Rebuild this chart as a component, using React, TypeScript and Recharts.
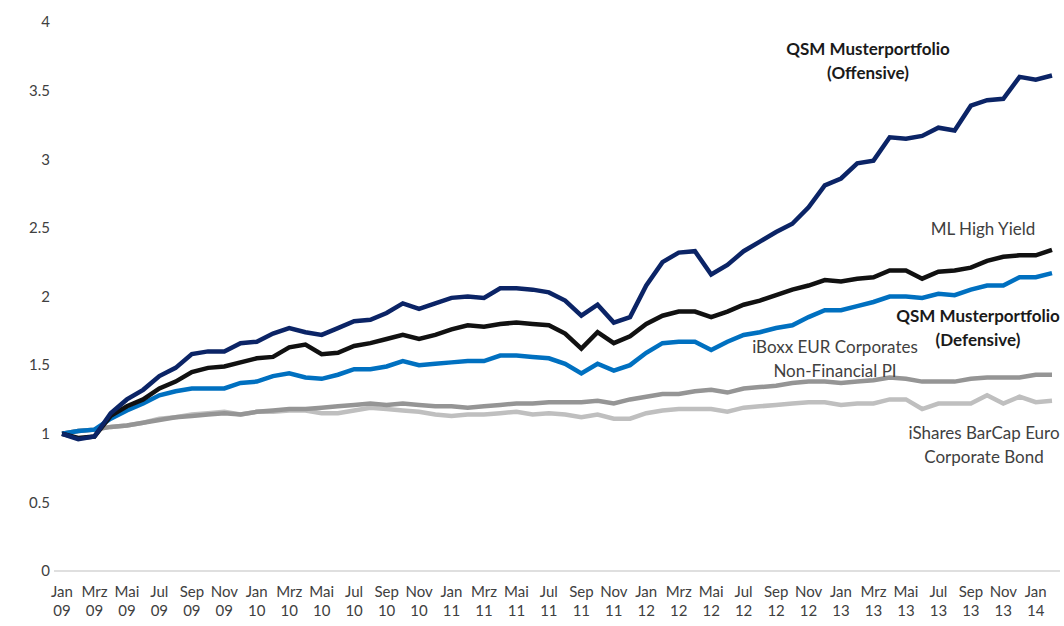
import React from 'react'
import { LineChart, Line, XAxis, YAxis } from 'recharts'

const categories = [
  'Jan 09', 'Feb 09', 'Mrz 09', 'Apr 09', 'Mai 09', 'Jun 09', 'Jul 09', 'Aug 09', 'Sep 09', 'Okt 09', 'Nov 09', 'Dez 09',
  'Jan 10', 'Feb 10', 'Mrz 10', 'Apr 10', 'Mai 10', 'Jun 10', 'Jul 10', 'Aug 10', 'Sep 10', 'Okt 10', 'Nov 10', 'Dez 10',
  'Jan 11', 'Feb 11', 'Mrz 11', 'Apr 11', 'Mai 11', 'Jun 11', 'Jul 11', 'Aug 11', 'Sep 11', 'Okt 11', 'Nov 11', 'Dez 11',
  'Jan 12', 'Feb 12', 'Mrz 12', 'Apr 12', 'Mai 12', 'Jun 12', 'Jul 12', 'Aug 12', 'Sep 12', 'Okt 12', 'Nov 12', 'Dez 12',
  'Jan 13', 'Feb 13', 'Mrz 13', 'Apr 13', 'Mai 13', 'Jun 13', 'Jul 13', 'Aug 13', 'Sep 13', 'Okt 13', 'Nov 13', 'Dez 13',
  'Jan 14', 'Feb 14',
]

const offensive = [
  1.0, 0.96, 0.98, 1.15, 1.25, 1.32, 1.42, 1.48, 1.58, 1.6, 1.6, 1.66,
  1.67, 1.73, 1.77, 1.74, 1.72, 1.77, 1.82, 1.83, 1.88, 1.95, 1.91, 1.95,
  1.99, 2.0, 1.99, 2.06, 2.06, 2.05, 2.03, 1.97, 1.86, 1.94, 1.81, 1.85,
  2.08, 2.25, 2.32, 2.33, 2.16, 2.23, 2.33, 2.4, 2.47, 2.53, 2.65, 2.81,
  2.86, 2.97, 2.99, 3.16, 3.15, 3.17, 3.23, 3.21, 3.39, 3.43, 3.44, 3.6,
  3.58, 3.61,
]

const highYield = [
  1.0, 0.97, 0.98, 1.13, 1.2, 1.25, 1.33, 1.38, 1.45, 1.48, 1.49, 1.52,
  1.55, 1.56, 1.63, 1.65, 1.58, 1.59, 1.64, 1.66, 1.69, 1.72, 1.69, 1.72,
  1.76, 1.79, 1.78, 1.8, 1.81, 1.8, 1.79, 1.73, 1.62, 1.74, 1.66, 1.71,
  1.8, 1.86, 1.89, 1.89, 1.85, 1.89, 1.94, 1.97, 2.01, 2.05, 2.08, 2.12,
  2.11, 2.13, 2.14, 2.19, 2.19, 2.13, 2.18, 2.19, 2.21, 2.26, 2.29, 2.3,
  2.3, 2.34,
]

const defensive = [
  1.0, 1.02, 1.03, 1.11, 1.17, 1.22, 1.28, 1.31, 1.33, 1.33, 1.33, 1.37,
  1.38, 1.42, 1.44, 1.41, 1.4, 1.43, 1.47, 1.47, 1.49, 1.53, 1.5, 1.51,
  1.52, 1.53, 1.53, 1.57, 1.57, 1.56, 1.55, 1.51, 1.44, 1.51, 1.46, 1.5,
  1.59, 1.66, 1.67, 1.67, 1.61, 1.67, 1.72, 1.74, 1.77, 1.79, 1.85, 1.9,
  1.9, 1.93, 1.96, 2.0, 2.0, 1.99, 2.02, 2.01, 2.05, 2.08, 2.08, 2.14,
  2.14, 2.17,
]

const iboxx = [
  1.0, 1.02, 1.03, 1.05, 1.06, 1.08, 1.1, 1.12, 1.13, 1.14, 1.15, 1.14,
  1.16, 1.17, 1.18, 1.18, 1.19, 1.2, 1.21, 1.22, 1.21, 1.22, 1.21, 1.2,
  1.2, 1.19, 1.2, 1.21, 1.22, 1.22, 1.23, 1.23, 1.23, 1.24, 1.22, 1.25,
  1.27, 1.29, 1.29, 1.31, 1.32, 1.3, 1.33, 1.34, 1.35, 1.37, 1.38, 1.38,
  1.37, 1.38, 1.39, 1.41, 1.4, 1.38, 1.38, 1.38, 1.4, 1.41, 1.41, 1.41,
  1.43, 1.43,
]

const ishares = [
  1.0, 1.02, 1.03, 1.05, 1.06, 1.08, 1.11, 1.12, 1.14, 1.15, 1.16, 1.14,
  1.16, 1.16, 1.17, 1.17, 1.15, 1.15, 1.17, 1.19, 1.18, 1.17, 1.16, 1.14,
  1.13, 1.14, 1.14, 1.15, 1.16, 1.14, 1.15, 1.14, 1.12, 1.14, 1.11, 1.11,
  1.15, 1.17, 1.18, 1.18, 1.18, 1.16, 1.19, 1.2, 1.21, 1.22, 1.23, 1.23,
  1.21, 1.22, 1.22, 1.25, 1.25, 1.18, 1.22, 1.22, 1.22, 1.28, 1.22, 1.27,
  1.23, 1.24,
]

const yTicks = [0, 0.5, 1, 1.5, 2, 2.5, 3, 3.5, 4]

const data = categories.map((c, i) => ({
  month: c,
  offensive: offensive[i],
  highYield: highYield[i],
  defensive: defensive[i],
  iboxx: iboxx[i],
  ishares: ishares[i],
}))

const FONT = 'Lato, "Liberation Sans", sans-serif'
const TEXT = '#404040'

function MonthTick({ x, y, payload }: any) {
  const [m, yr] = String(payload.value).split(' ')
  return (
    <text x={x} y={y} textAnchor="middle" fill={TEXT} fontSize={15} fontFamily={FONT}>
      <tspan x={x} dy={18}>{m}</tspan>
      <tspan x={x} dy={19}>{yr}</tspan>
    </text>
  )
}

const labelStyle = (left: number, top: number, bold: boolean): React.CSSProperties => ({
  position: 'absolute',
  left: left - 120,
  top,
  width: 240,
  textAlign: 'center',
  fontFamily: FONT,
  fontSize: 17,
  lineHeight: '24px',
  fontWeight: bold ? 700 : 400,
  color: bold ? '#1a1a1a' : TEXT,
  whiteSpace: 'nowrap',
})

export default function App() {
  return (
    <div style={{ position: 'absolute', left: 0, top: 0, width: 1064, height: 626, background: '#fff' }}>
      <LineChart width={1064} height={626} data={data} margin={{ top: 22, right: 4, left: 0, bottom: 0 }}>
        <XAxis
          dataKey="month"
          interval={1}
          height={55}
          padding={{ left: 8, right: 8 }}
          tickLine={false}
          axisLine={{ stroke: '#BFBFBF', strokeWidth: 1 }}
          tick={<MonthTick />}
        />
        <YAxis
          width={54}
          domain={[0, 4]}
          ticks={yTicks}
          axisLine={false}
          tickLine={false}
          tickMargin={-2}
          tick={{ fill: TEXT, fontSize: 15, fontFamily: FONT }}
        />
        <Line type="linear" dataKey="ishares" stroke="#BFBFBF" strokeWidth={4.5} dot={false} isAnimationActive={false} />
        <Line type="linear" dataKey="iboxx" stroke="#959595" strokeWidth={4.5} dot={false} isAnimationActive={false} />
        <Line type="linear" dataKey="defensive" stroke="#0070C0" strokeWidth={4.5} dot={false} isAnimationActive={false} />
        <Line type="linear" dataKey="highYield" stroke="#111111" strokeWidth={4.5} dot={false} isAnimationActive={false} />
        <Line type="linear" dataKey="offensive" stroke="#0B2466" strokeWidth={4.5} dot={false} isAnimationActive={false} />
      </LineChart>
      <div style={labelStyle(868, 37, true)}>QSM Musterportfolio<br />(Offensive)</div>
      <div style={labelStyle(983, 217, false)}>ML High Yield</div>
      <div style={labelStyle(978, 304, true)}>QSM Musterportfolio<br />(Defensive)</div>
      <div style={labelStyle(835, 335, false)}>iBoxx EUR Corporates<br />Non-Financial PI</div>
      <div style={labelStyle(984, 421, false)}>iShares BarCap Euro<br />Corporate Bond</div>
    </div>
  )
}
